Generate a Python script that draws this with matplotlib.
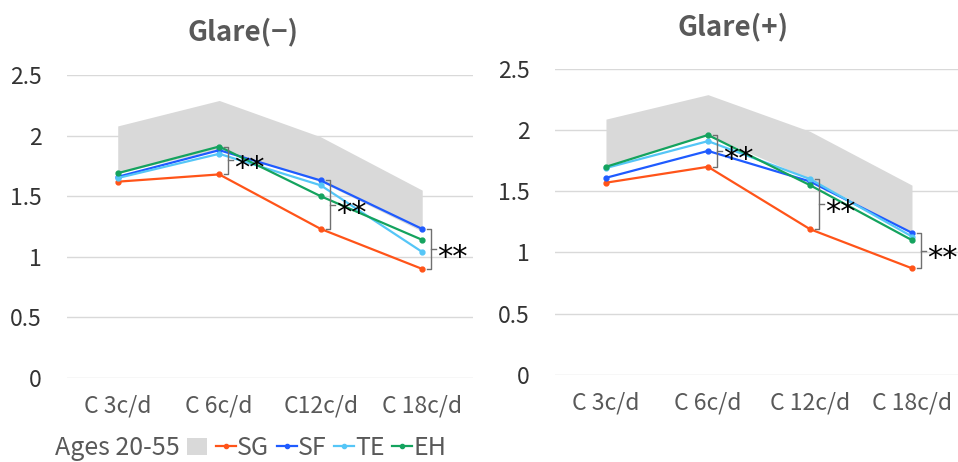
import matplotlib
matplotlib.use("Agg")
import matplotlib.pyplot as plt
from matplotlib.lines import Line2D
from matplotlib.patches import Patch

plt.rcParams['font.family'] = ['Noto Sans CJK JP', 'DejaVu Sans']

# data
x_left = ['C 3c/d', 'C 6c/d', 'C12c/d', 'C 18c/d']
x_right = ['C 3c/d', 'C 6c/d', 'C 12c/d', 'C 18c/d']
y_ticks = [0, 0.5, 1, 1.5, 2, 2.5]
y_labels = ['0', '0.5', '1', '1.5', '2', '2.5']

# Glare(-)
band_lo_l = [1.69, 1.89, 1.62, 1.21]
band_hi_l = [2.08, 2.29, 1.99, 1.55]
sg_l = [1.62, 1.68, 1.23, 0.90]
sf_l = [1.66, 1.88, 1.63, 1.23]
te_l = [1.65, 1.85, 1.59, 1.04]
eh_l = [1.69, 1.91, 1.50, 1.14]

# Glare(+)
band_lo_r = [1.70, 1.96, 1.60, 1.16]
band_hi_r = [2.09, 2.29, 1.99, 1.55]
sg_r = [1.57, 1.70, 1.19, 0.87]
sf_r = [1.61, 1.83, 1.58, 1.16]
te_r = [1.69, 1.91, 1.60, 1.13]
eh_r = [1.70, 1.96, 1.55, 1.10]

# significance brackets at these category indices
sig_idx = [1, 2, 3]

c_sg = '#FF5419'
c_sf = '#1F5BFF'
c_te = '#55C6F7'
c_eh = '#14A35E'
c_band = '#D9D9D9'
txt_gray = '#595959'

fig = plt.figure(figsize=(9.58, 4.62), dpi=100)
ax1 = fig.add_axes([0.0699, 0.1818, 0.4238, 0.6558])
ax2 = fig.add_axes([0.5793, 0.189, 0.4259, 0.6617])


def draw_panel(ax, cats, lo, hi, sg, sf, te, eh, title, tx, ty):
    xs = range(len(cats))
    ax.fill_between(xs, lo, hi, color=c_band, lw=0, zorder=1)
    for vals, col in [(sg, c_sg), (sf, c_sf), (te, c_te), (eh, c_eh)]:
        ax.plot(xs, vals, color=col, lw=1.6, marker='o', ms=3.5, zorder=3)
    ax.set_xlim(-0.5, len(cats) - 0.5)
    ax.set_ylim(0, 2.5)
    ax.set_yticks(y_ticks)
    ax.set_yticklabels(y_labels, fontsize=16.5, color='#333333')
    ax.set_xticks(list(xs))
    ax.set_xticklabels(cats, fontsize=16.5, color=txt_gray)
    ax.tick_params(axis='y', length=0, pad=18)
    ax.tick_params(axis='x', length=0, pad=12)
    ax.grid(axis='y', color='#D9D9D9', lw=1)
    ax.set_axisbelow(True)
    for s in ax.spines.values():
        s.set_visible(False)
    ax.text(tx, ty, title, transform=ax.transAxes, fontsize=20,
            fontweight='bold', color=txt_gray, ha='center', va='center')

    # brackets with **
    for i in sig_idx:
        top = max(sf[i], te[i], eh[i])
        bot = sg[i]
        mid = (top + bot) / 2
        xv = i + 0.09
        ax.plot([xv - 0.04, xv, xv, xv - 0.04], [top, top, bot, bot],
                color='#707070', lw=1, zorder=4)
        ax.plot([xv, xv + 0.05], [mid, mid], color='#707070', lw=1, zorder=4)
        ax.annotate('**', (xv + 0.06, mid), xytext=(0, -6),
                    textcoords='offset points', fontsize=22, color='black',
                    ha='left', va='center', family='DejaVu Sans', zorder=5)


draw_panel(ax1, x_left, band_lo_l, band_hi_l, sg_l, sf_l, te_l, eh_l,
           'Glare(\u2212)', 0.4335, 1.142)
draw_panel(ax2, x_right, band_lo_r, band_hi_r, sg_r, sf_r, te_r, eh_r,
           'Glare(+)', 0.436, 1.136)

handles = [
    Line2D([], [], color='none'),
    Patch(facecolor=c_band, edgecolor='none'),
    Line2D([], [], color=c_sg, lw=1.6, marker='o', ms=3),
    Line2D([], [], color=c_sf, lw=1.6, marker='o', ms=3),
    Line2D([], [], color=c_te, lw=1.6, marker='o', ms=3),
    Line2D([], [], color=c_eh, lw=1.6, marker='o', ms=3),
]
labels = ['Ages 20-55', '', 'SG', 'SF', 'TE', 'EH']
fig.legend(handles, labels, loc='center left', bbox_to_anchor=(0.035, 0.03),
           ncol=6, frameon=False, fontsize=18, labelcolor=txt_gray,
           handlelength=0.8, handletextpad=0.05, columnspacing=0.3,
           borderaxespad=0, borderpad=0)

fig.savefig('out.png', dpi=100)
